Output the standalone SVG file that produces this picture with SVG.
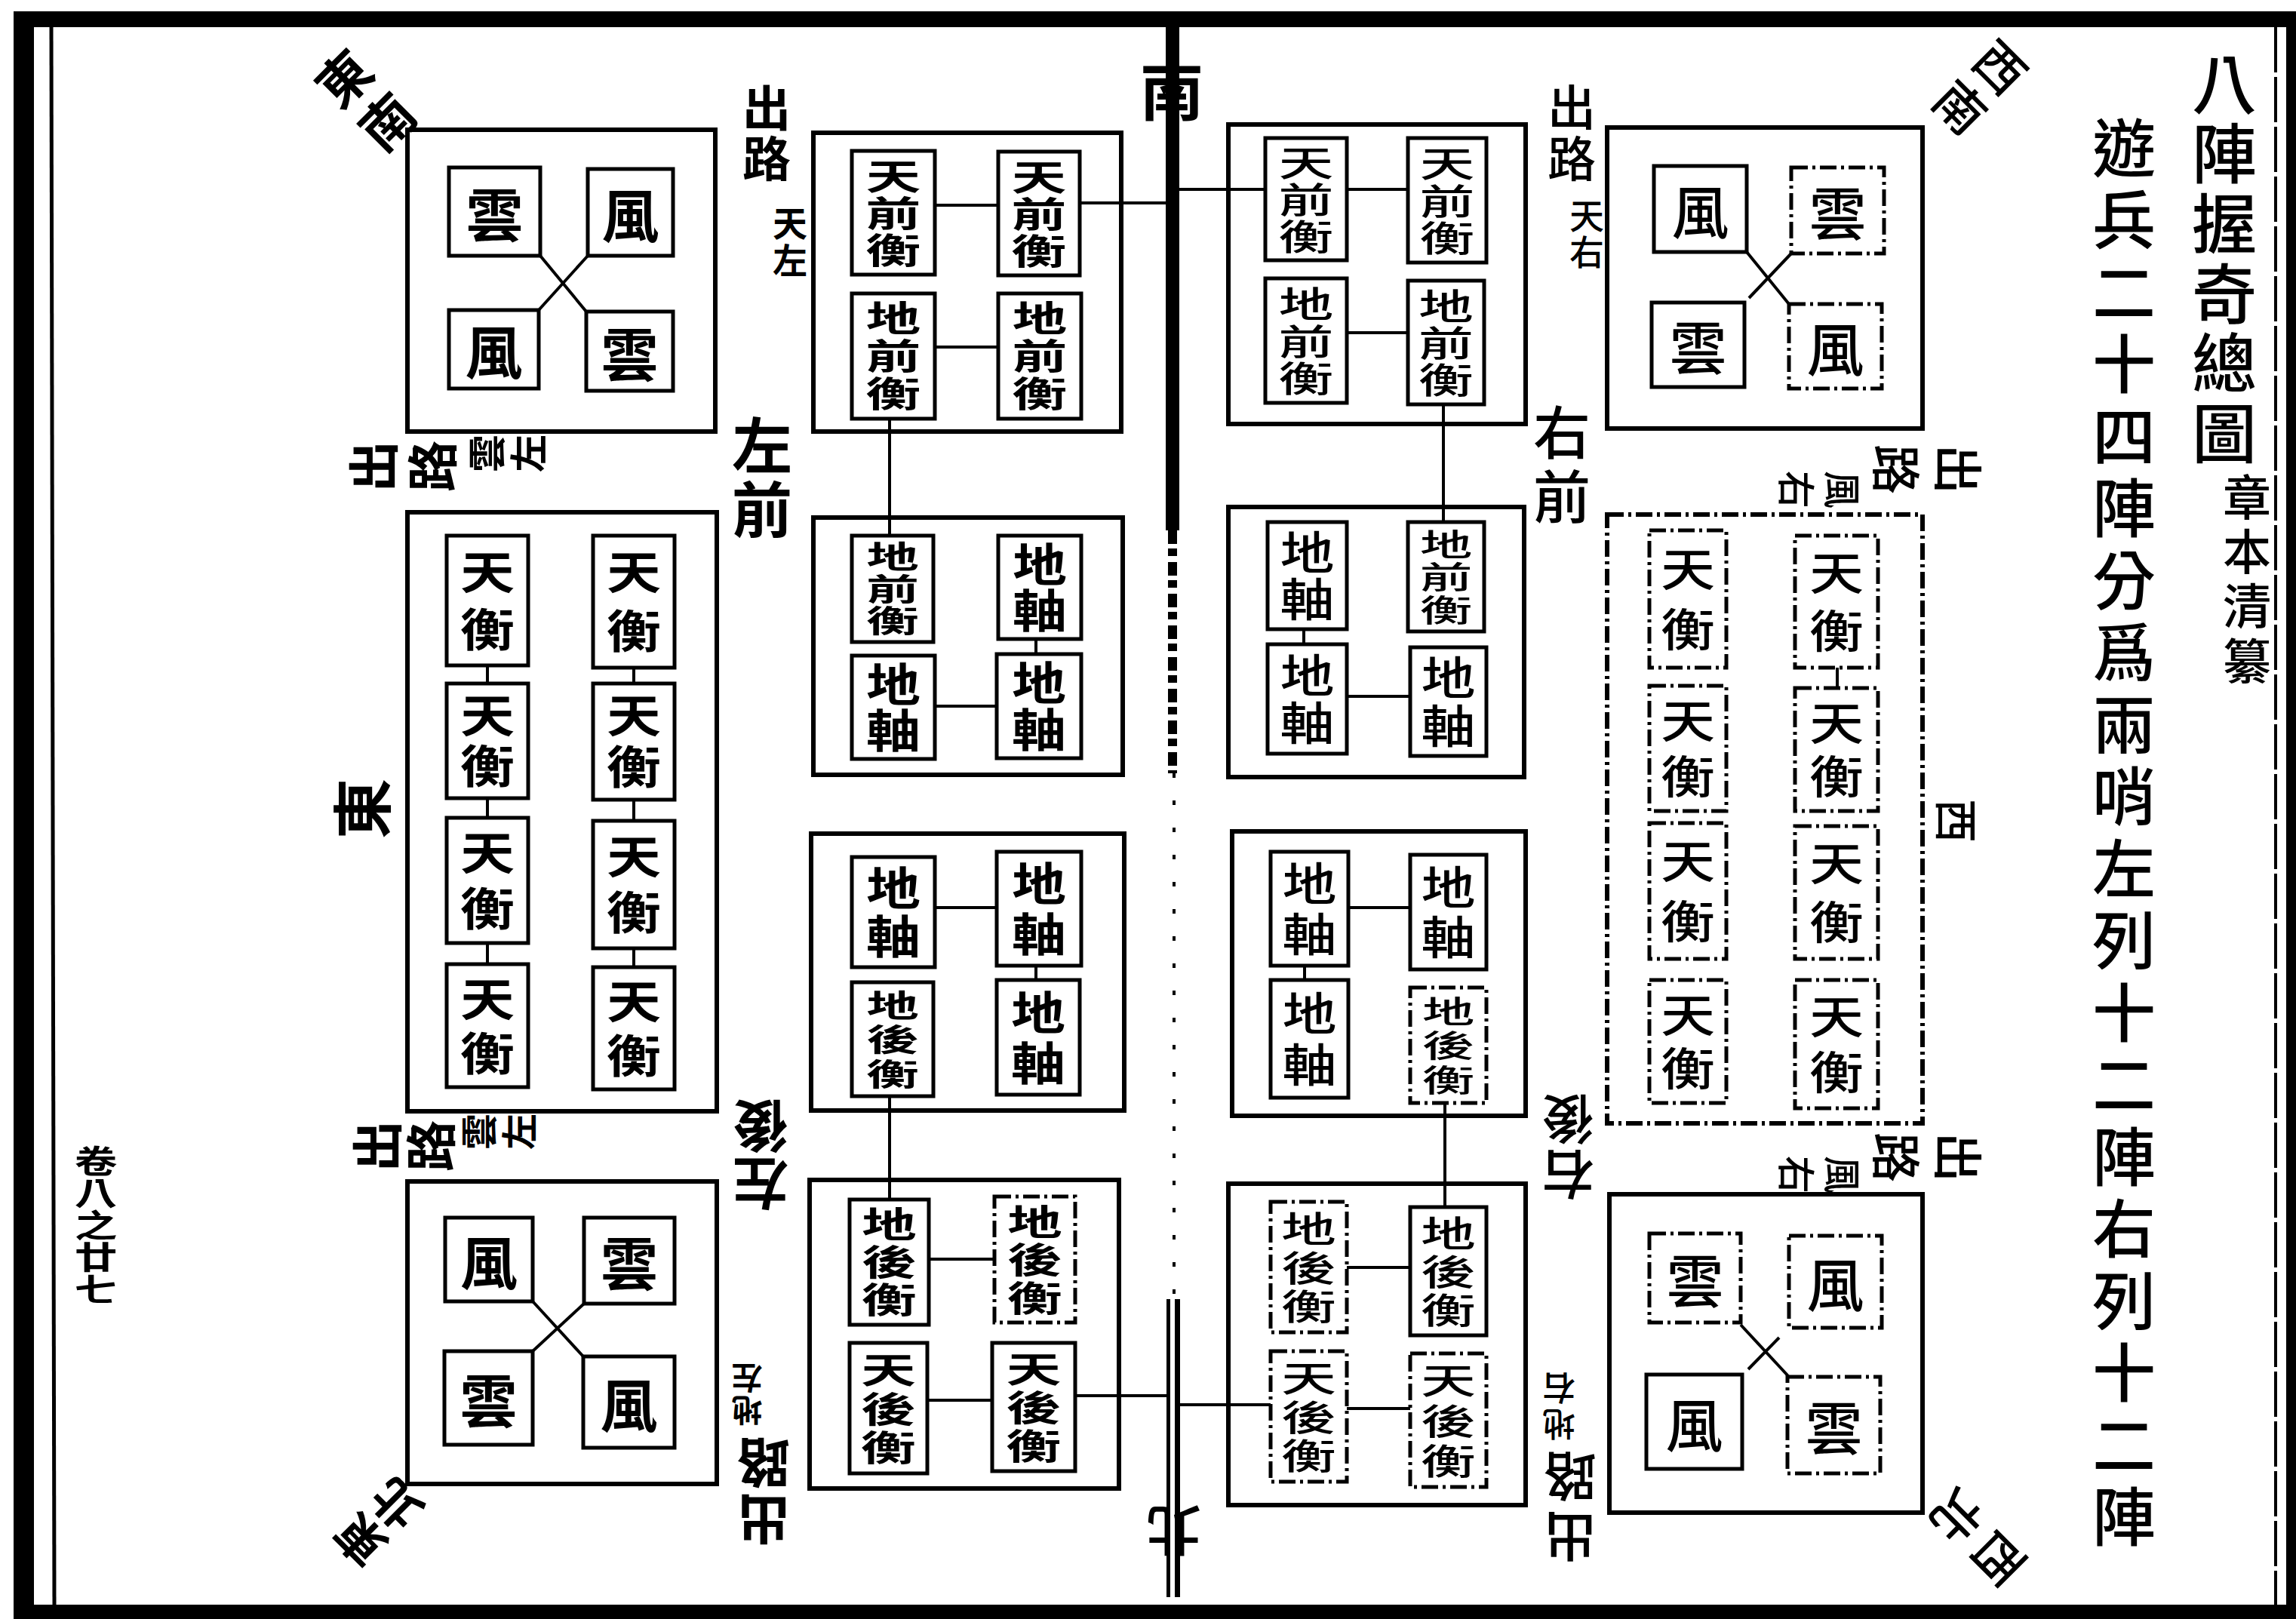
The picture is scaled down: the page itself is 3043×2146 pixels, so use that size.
<svg xmlns="http://www.w3.org/2000/svg" width="3043" height="2146" viewBox="0 0 3043 2146">
<style>
.f{font-family:"Noto Sans CJK TC","Noto Sans CJK SC",sans-serif;text-anchor:middle;dominant-baseline:central;fill:#000}
.v{writing-mode:vertical-rl}
.L{font-weight:700}
.R{font-weight:500}
.bx{fill:none;stroke:#000;stroke-width:6}
.sb{fill:none;stroke:#000;stroke-width:5}
.ds{stroke-dasharray:22 6 4 6}
.cn{stroke:#000;stroke-width:4;fill:none}
.s1{font-size:76px}
.s2{font-size:60px}
.s3{font-size:47px}
.s3b{font-size:41px}
</style>
<rect width="3043" height="2146" fill="#fff"/>
<g id="frame" fill="#000">
<rect x="18" y="15" width="3025" height="21"/>
<rect x="18" y="15" width="27" height="2131"/>
<rect x="18" y="2127" width="3025" height="19"/>
<rect x="3030" y="15" width="13" height="2131"/>
<line x1="68" y1="36" x2="72" y2="2127" stroke="#000" stroke-width="5"/>
<line x1="3016" y1="36" x2="3016" y2="2127" stroke="#000" stroke-width="4" stroke-dasharray="60 6"/>
</g>
<g id="gutter" fill="#000">
<rect x="1545" y="36" width="18" height="667"/>
<line x1="1554" y1="703" x2="1554" y2="1025" stroke="#000" stroke-width="12" stroke-dasharray="18 6 10 8"/>
<line x1="1556" y1="1025" x2="1556" y2="1721" stroke="#000" stroke-width="4" stroke-dasharray="6 30"/>
<rect x="1546" y="1722" width="5" height="395"/>
<rect x="1557" y="1722" width="7" height="395"/>
</g>
<g id="connectors" class="cn">
<line x1="1431" y1="269" x2="1545" y2="269"/>
<line x1="1239" y1="272" x2="1323" y2="272"/>
<line x1="1239" y1="460" x2="1323" y2="460"/>
<line x1="1179" y1="555" x2="1179" y2="710"/>
<line x1="1239" y1="936" x2="1321" y2="936"/>
<line x1="1373" y1="847" x2="1373" y2="867"/>
<line x1="1239" y1="1203" x2="1321" y2="1203"/>
<line x1="1373" y1="1280" x2="1373" y2="1299"/>
<line x1="1179" y1="1453" x2="1179" y2="1590"/>
<line x1="1231" y1="1669" x2="1318" y2="1669"/>
<line x1="1229" y1="1856" x2="1315" y2="1856"/>
<line x1="1425" y1="1850" x2="1546" y2="1850"/>
<line x1="646" y1="882" x2="646" y2="906"/>
<line x1="646" y1="1058" x2="646" y2="1084"/>
<line x1="646" y1="1250" x2="646" y2="1278"/>
<line x1="840" y1="885" x2="840" y2="906"/>
<line x1="840" y1="1060" x2="840" y2="1088"/>
<line x1="840" y1="1257" x2="840" y2="1282"/>
<line x1="716" y1="339" x2="777" y2="413"/>
<line x1="779" y1="339" x2="714" y2="411"/>
<line x1="706" y1="1725" x2="773" y2="1798"/>
<line x1="774" y1="1728" x2="706" y2="1791"/>
<line x1="1563" y1="251" x2="1677" y2="251"/>
<line x1="1785" y1="251" x2="1866" y2="251"/>
<line x1="1785" y1="441" x2="1866" y2="441"/>
<line x1="1913" y1="536" x2="1913" y2="692"/>
<line x1="1785" y1="923" x2="1869" y2="923"/>
<line x1="1728" y1="834" x2="1728" y2="854"/>
<line x1="1787" y1="1203" x2="1869" y2="1203"/>
<line x1="1729" y1="1280" x2="1729" y2="1299"/>
<line x1="1915" y1="1462" x2="1915" y2="1600"/>
<line x1="1785" y1="1680" x2="1869" y2="1680"/>
<line x1="1785" y1="1867" x2="1869" y2="1867"/>
<line x1="1564" y1="1862" x2="1684" y2="1862"/>
<line x1="2435" y1="885" x2="2435" y2="912"/>
<line x1="2315" y1="334" x2="2371" y2="403"/>
<line x1="2374" y1="336" x2="2318" y2="395"/>
<line x1="2307" y1="1756" x2="2371" y2="1825"/>
<line x1="2358" y1="1773" x2="2317" y2="1815"/>
</g>
<g id="c-left-top"><rect class="bx" x="540" y="172" width="408" height="400"/></g>
<g id="c-left-mid"><rect class="bx" x="540" y="679" width="410" height="794"/></g>
<g id="c-left-bot"><rect class="bx" x="540" y="1566" width="410" height="401"/></g>
<g id="c-A"><rect class="bx" x="1078" y="176" width="408" height="396"/></g>
<g id="c-B"><rect class="bx" x="1078" y="686" width="410" height="341"/></g>
<g id="c-C"><rect class="bx" x="1075" y="1105" width="415" height="367"/></g>
<g id="c-D"><rect class="bx" x="1073" y="1564" width="410" height="409"/></g>
<g id="c-E"><rect class="bx" x="1628" y="165" width="394" height="397"/></g>
<g id="c-F"><rect class="bx" x="1628" y="672" width="392" height="358"/></g>
<g id="c-G"><rect class="bx" x="1633" y="1102" width="389" height="377"/></g>
<g id="c-H"><rect class="bx" x="1628" y="1569" width="394" height="426"/></g>
<g id="c-right-top"><rect class="bx" x="2130" y="169" width="418" height="399"/></g>
<g id="c-right-mid"><rect class="bx ds" x="2130" y="682" width="418" height="807"/></g>
<g id="c-right-bot"><rect class="bx" x="2133" y="1583" width="415" height="422"/></g>

<g id="lt1"><rect class="sb" x="595" y="222" width="121" height="117"/><text class="f L s1" x="655.5" y="280.5">雲</text></g>
<g id="lt2"><rect class="sb" x="779" y="224" width="113" height="115"/><text class="f L s1" x="835.5" y="281.5">風</text></g>
<g id="lt3"><rect class="sb" x="595" y="411" width="119" height="104"/><text class="f L s1" x="654.5" y="463">風</text></g>
<g id="lt4"><rect class="sb" x="777" y="413" width="115" height="105"/><text class="f L s1" x="834.5" y="465.5">雲</text></g>

<g id="lm1"><rect class="sb" x="592" y="710" width="108" height="172"/><g transform="translate(646 0) scale(1.2 1)"><text class="f v L s2" x="0" y="804" letter-spacing="16">天衡</text></g></g>
<g id="lm2"><rect class="sb" x="786" y="710" width="108" height="175"/><g transform="translate(840 0) scale(1.2 1)"><text class="f v L s2" x="0" y="806" letter-spacing="18">天衡</text></g></g>
<g id="lm3"><rect class="sb" x="592" y="906" width="108" height="152"/><g transform="translate(646 0) scale(1.2 1)"><text class="f v L s2" x="0" y="985" letter-spacing="7">天衡</text></g></g>
<g id="lm4"><rect class="sb" x="786" y="906" width="108" height="154"/><g transform="translate(840 0) scale(1.2 1)"><text class="f v L s2" x="0" y="986" letter-spacing="8">天衡</text></g></g>
<g id="lm5"><rect class="sb" x="592" y="1084" width="108" height="166"/><g transform="translate(646 0) scale(1.2 1)"><text class="f v L s2" x="0" y="1174" letter-spacing="14">天衡</text></g></g>
<g id="lm6"><rect class="sb" x="786" y="1088" width="108" height="169"/><g transform="translate(840 0) scale(1.2 1)"><text class="f v L s2" x="0" y="1179" letter-spacing="14">天衡</text></g></g>
<g id="lm7"><rect class="sb" x="592" y="1278" width="108" height="163"/><g transform="translate(646 0) scale(1.2 1)"><text class="f v L s2" x="0" y="1366" letter-spacing="12">天衡</text></g></g>
<g id="lm8"><rect class="sb" x="786" y="1282" width="108" height="162"/><g transform="translate(840 0) scale(1.2 1)"><text class="f v L s2" x="0" y="1369" letter-spacing="12">天衡</text></g></g>

<g id="lb1"><rect class="sb" x="590" y="1614" width="116" height="111"/><text class="f L s1" x="648" y="1670">風</text></g>
<g id="lb2"><rect class="sb" x="774" y="1614" width="120" height="114"/><text class="f L s1" x="834" y="1671">雲</text></g>
<g id="lb3"><rect class="sb" x="589" y="1791" width="117" height="124"/><text class="f L s1" x="647.5" y="1853">雲</text></g>
<g id="lb4"><rect class="sb" x="773" y="1798" width="121" height="121"/><text class="f L s1" x="833.5" y="1858.5">風</text></g>

<g id="a1"><rect class="sb" x="1129" y="200" width="110" height="164"/><g transform="translate(1184 0) scale(1.55 1)"><text class="f v L s3" x="0" y="283" letter-spacing="2">天前衡</text></g></g>
<g id="a2"><rect class="sb" x="1323" y="201" width="108" height="164"/><g transform="translate(1377 0) scale(1.55 1)"><text class="f v L s3" x="0" y="284" letter-spacing="2">天前衡</text></g></g>
<g id="a3"><rect class="sb" x="1129" y="389" width="110" height="166"/><g transform="translate(1184 0) scale(1.55 1)"><text class="f v L s3" x="0" y="473" letter-spacing="3">地前衡</text></g></g>
<g id="a4"><rect class="sb" x="1323" y="389" width="110" height="166"/><g transform="translate(1378 0) scale(1.55 1)"><text class="f v L s3" x="0" y="473" letter-spacing="3">地前衡</text></g></g>
<g id="b1"><rect class="sb" x="1129" y="710" width="108" height="141"/><g transform="translate(1183 0) scale(1.7 1)"><text class="f v L s3b" x="0" y="781" letter-spacing="1.5">地前衡</text></g></g>
<g id="b2"><rect class="sb" x="1323" y="710" width="110" height="137"/><g transform="translate(1378 0) scale(1.2 1)"><text class="f v L s2" x="0" y="779" letter-spacing="1">地軸</text></g></g>
<g id="b3"><rect class="sb" x="1129" y="869" width="110" height="137"/><g transform="translate(1184 0) scale(1.2 1)"><text class="f v L s2" x="0" y="938" letter-spacing="1">地軸</text></g></g>
<g id="b4"><rect class="sb" x="1321" y="867" width="112" height="138"/><g transform="translate(1377 0) scale(1.2 1)"><text class="f v L s2" x="0" y="937" letter-spacing="2">地軸</text></g></g>
<g id="cc1"><rect class="sb" x="1129" y="1136" width="110" height="146"/><g transform="translate(1184 0) scale(1.2 1)"><text class="f v L s2" x="0" y="1211" letter-spacing="4">地軸</text></g></g>
<g id="cc2"><rect class="sb" x="1321" y="1129" width="112" height="151"/><g transform="translate(1377 0) scale(1.2 1)"><text class="f v L s2" x="0" y="1208" letter-spacing="7">地軸</text></g></g>
<g id="cc3"><rect class="sb" x="1129" y="1302" width="108" height="151"/><g transform="translate(1183 0) scale(1.7 1)"><text class="f v L s3b" x="0" y="1380" letter-spacing="4.5">地後衡</text></g></g>
<g id="cc4"><rect class="sb" x="1321" y="1299" width="110" height="152"/><g transform="translate(1376 0) scale(1.2 1)"><text class="f v L s2" x="0" y="1379" letter-spacing="7">地軸</text></g></g>
<g id="d1"><rect class="sb" x="1126" y="1590" width="105" height="166"/><g transform="translate(1178.5 0) scale(1.55 1)"><text class="f v L s3" x="0" y="1674" letter-spacing="3">地後衡</text></g></g>
<g id="d2"><rect class="sb ds" x="1318" y="1586" width="107" height="167"/><g transform="translate(1371.5 0) scale(1.55 1)"><text class="f v L s3" x="0" y="1671" letter-spacing="3.5">地後衡</text></g></g>
<g id="d3"><rect class="sb" x="1126" y="1780" width="103" height="173"/><g transform="translate(1177.5 0) scale(1.55 1)"><text class="f v L s3" x="0" y="1869" letter-spacing="4.5">天後衡</text></g></g>
<g id="d4"><rect class="sb" x="1315" y="1780" width="110" height="170"/><g transform="translate(1370 0) scale(1.55 1)"><text class="f v L s3" x="0" y="1867" letter-spacing="4">天後衡</text></g></g>

<g id="e1"><rect class="sb" x="1677" y="183" width="108" height="162"/><g transform="translate(1731 0) scale(1.55 1)"><text class="f v R s3" x="0" y="265" letter-spacing="2">天前衡</text></g></g>
<g id="e2"><rect class="sb" x="1866" y="183" width="104" height="165"/><g transform="translate(1918 0) scale(1.55 1)"><text class="f v R s3" x="0" y="267" letter-spacing="2.5">天前衡</text></g></g>
<g id="e3"><rect class="sb" x="1677" y="369" width="108" height="165"/><g transform="translate(1731 0) scale(1.55 1)"><text class="f v R s3" x="0" y="453" letter-spacing="2.5">地前衡</text></g></g>
<g id="e4"><rect class="sb" x="1866" y="372" width="101" height="164"/><g transform="translate(1916.5 0) scale(1.55 1)"><text class="f v R s3" x="0" y="455" letter-spacing="2">地前衡</text></g></g>
<g id="f1"><rect class="sb" x="1680" y="692" width="105" height="142"/><g transform="translate(1732.5 0) scale(1.2 1)"><text class="f v R s2" x="0" y="764" letter-spacing="2">地軸</text></g></g>
<g id="f2"><rect class="sb" x="1866" y="692" width="101" height="145"/><g transform="translate(1916.5 0) scale(1.7 1)"><text class="f v R s3b" x="0" y="766" letter-spacing="2.5">地前衡</text></g></g>
<g id="f3"><rect class="sb" x="1680" y="854" width="105" height="145"/><g transform="translate(1732.5 0) scale(1.2 1)"><text class="f v R s2" x="0" y="928" letter-spacing="3">地軸</text></g></g>
<g id="f4"><rect class="sb" x="1869" y="858" width="101" height="144"/><g transform="translate(1919.5 0) scale(1.2 1)"><text class="f v R s2" x="0" y="932" letter-spacing="4">地軸</text></g></g>
<g id="g1"><rect class="sb" x="1684" y="1129" width="103" height="151"/><g transform="translate(1735.5 0) scale(1.2 1)"><text class="f v R s2" x="0" y="1208" letter-spacing="7">地軸</text></g></g>
<g id="g2"><rect class="sb" x="1869" y="1133" width="101" height="152"/><g transform="translate(1919.5 0) scale(1.2 1)"><text class="f v R s2" x="0" y="1212" letter-spacing="6">地軸</text></g></g>
<g id="g3"><rect class="sb" x="1684" y="1299" width="103" height="156"/><g transform="translate(1735.5 0) scale(1.2 1)"><text class="f v R s2" x="0" y="1381" letter-spacing="8">地軸</text></g></g>
<g id="g4"><rect class="sb ds" x="1869" y="1309" width="101" height="153"/><g transform="translate(1919.5 0) scale(1.7 1)"><text class="f v R s3b" x="0" y="1388" letter-spacing="4.5">地後衡</text></g></g>
<g id="h1"><rect class="sb ds" x="1684" y="1593" width="101" height="173"/><g transform="translate(1734.5 0) scale(1.55 1)"><text class="f v R s3" x="0" y="1682" letter-spacing="4.5">地後衡</text></g></g>
<g id="h2"><rect class="sb" x="1869" y="1600" width="101" height="170"/><g transform="translate(1919.5 0) scale(1.55 1)"><text class="f v R s3" x="0" y="1687" letter-spacing="4">地後衡</text></g></g>
<g id="h3"><rect class="sb ds" x="1684" y="1791" width="101" height="173"/><g transform="translate(1734.5 0) scale(1.55 1)"><text class="f v R s3" x="0" y="1880" letter-spacing="4.5">天後衡</text></g></g>
<g id="h4"><rect class="sb ds" x="1869" y="1794" width="101" height="177"/><g transform="translate(1919.5 0) scale(1.55 1)"><text class="f v R s3" x="0" y="1886" letter-spacing="6.5">天後衡</text></g></g>

<g id="rt1"><rect class="sb" x="2192" y="220" width="123" height="114"/><text class="f R s1" x="2253.5" y="277">風</text></g>
<g id="rt2"><rect class="sb ds" x="2374" y="222" width="123" height="114"/><text class="f R s1" x="2435.5" y="279">雲</text></g>
<g id="rt3"><rect class="sb" x="2189" y="401" width="123" height="112"/><text class="f R s1" x="2250.5" y="457">雲</text></g>
<g id="rt4"><rect class="sb ds" x="2371" y="403" width="123" height="112"/><text class="f R s1" x="2432.5" y="459">風</text></g>
<g id="rm1"><rect class="sb ds" x="2186" y="703" width="102" height="182"/><g transform="translate(2237 0) scale(1.2 1)"><text class="f v R s2" x="0" y="804" letter-spacing="20">天衡</text></g></g>
<g id="rm2"><rect class="sb ds" x="2379" y="710" width="110" height="175"/><g transform="translate(2434 0) scale(1.2 1)"><text class="f v R s2" x="0" y="806" letter-spacing="17">天衡</text></g></g>
<g id="rm3"><rect class="sb ds" x="2186" y="909" width="102" height="166"/><g transform="translate(2237 0) scale(1.2 1)"><text class="f v R s2" x="0" y="999" letter-spacing="14">天衡</text></g></g>
<g id="rm4"><rect class="sb ds" x="2379" y="912" width="110" height="163"/><g transform="translate(2434 0) scale(1.2 1)"><text class="f v R s2" x="0" y="999" letter-spacing="11">天衡</text></g></g>
<g id="rm5"><rect class="sb ds" x="2186" y="1091" width="102" height="180"/><g transform="translate(2237 0) scale(1.2 1)"><text class="f v R s2" x="0" y="1191" letter-spacing="20">天衡</text></g></g>
<g id="rm6"><rect class="sb ds" x="2379" y="1095" width="110" height="176"/><g transform="translate(2434 0) scale(1.2 1)"><text class="f v R s2" x="0" y="1192" letter-spacing="18">天衡</text></g></g>
<g id="rm7"><rect class="sb ds" x="2186" y="1299" width="102" height="163"/><g transform="translate(2237 0) scale(1.2 1)"><text class="f v R s2" x="0" y="1386" letter-spacing="11">天衡</text></g></g>
<g id="rm8"><rect class="sb ds" x="2379" y="1299" width="110" height="170"/><g transform="translate(2434 0) scale(1.2 1)"><text class="f v R s2" x="0" y="1391" letter-spacing="14">天衡</text></g></g>
<g id="rb1"><rect class="sb ds" x="2186" y="1635" width="121" height="118"/><text class="f R s1" x="2246.5" y="1694">雲</text></g>
<g id="rb2"><rect class="sb ds" x="2371" y="1638" width="123" height="122"/><text class="f R s1" x="2432.5" y="1699">風</text></g>
<g id="rb3"><rect class="sb" x="2182" y="1822" width="127" height="125"/><text class="f R s1" x="2245.5" y="1884.5">風</text></g>
<g id="rb4"><rect class="sb ds" x="2369" y="1825" width="123" height="128"/><text class="f R s1" x="2430.5" y="1889">雲</text></g>

<g id="labels" class="f L">
<text x="1553" y="115" font-size="85">南</text>
<text x="1555" y="2033" font-size="74" font-weight="500" transform="rotate(180 1555 2033)">北</text>
<text x="475" y="1072" font-size="80" transform="rotate(-90 475 1072)">東</text>
<text x="2596" y="1088" font-size="58" font-weight="500" transform="rotate(90 2596 1088)">西</text>
<text class="v" x="485" y="138" font-size="70" letter-spacing="11" transform="rotate(-45 485 133)">東南</text>
<text class="v" x="2625" y="120" font-size="66" font-weight="500" letter-spacing="9" transform="rotate(45 2625 115)">西南</text>
<text class="v" x="501" y="2020" font-size="64" letter-spacing="3" transform="rotate(-135 501 2018)">東北</text>
<text class="v" x="2621" y="2044" font-size="66" font-weight="500" letter-spacing="13" transform="rotate(135 2621 2038)">西北</text>
<text class="v" x="1016" y="178" font-size="64" letter-spacing="3">出路</text>
<text class="v" x="1047" y="322" font-size="46" letter-spacing="3">天左</text>
<text class="v" x="1010" y="635" font-size="80" letter-spacing="5">左前</text>
<text class="v" x="1008" y="1532" font-size="74" letter-spacing="2" transform="rotate(180 1008 1531)">左後</text>
<text class="v" x="1012" y="1980" font-size="70" letter-spacing="5" transform="rotate(180 1012 1977)">出路</text>
<text class="v" x="990" y="1849" font-size="41" letter-spacing="2" transform="rotate(180 990 1848)">地左</text>
<text class="v" x="534" y="623" font-size="68" letter-spacing="10" transform="rotate(-90 534 618)">出路</text>
<text class="v" x="672" y="604" font-size="50" letter-spacing="5" transform="rotate(-90 672 601)">雲左</text>
<text class="v" x="535" y="1521" font-size="68" letter-spacing="3" transform="rotate(-90 535 1519)">出路</text>
<text class="v" x="661" y="1503" font-size="48" letter-spacing="5" transform="rotate(-90 661 1500)">雲左</text>
</g>
<g id="labels-right" class="f R">
<text class="v" x="2083" y="178" font-size="64" letter-spacing="4">出路</text>
<text class="v" x="2103" y="311" font-size="46" letter-spacing="2">天右</text>
<text class="v" x="2070" y="620" font-size="76" letter-spacing="9">右前</text>
<text class="v" x="2078" y="1523" font-size="70" letter-spacing="3" transform="rotate(180 2078 1521)">右後</text>
<text class="v" x="2081" y="2002" font-size="70" letter-spacing="10" transform="rotate(180 2081 1997)">出路</text>
<text class="v" x="2066" y="1866" font-size="44" letter-spacing="4" transform="rotate(180 2066 1864)">地右</text>
<text class="v" x="2554" y="630" font-size="66" letter-spacing="16" transform="rotate(90 2554 622)">出路</text>
<text class="v" x="2412" y="655" font-size="50" letter-spacing="11" transform="rotate(90 2412 649)">風右</text>
<text class="v" x="2554" y="1542" font-size="66" letter-spacing="16" transform="rotate(90 2554 1534)">出路</text>
<text class="v" x="2412" y="1563" font-size="50" letter-spacing="11" transform="rotate(90 2412 1557)">風右</text>
</g>
<g id="title" class="f R">
<text class="v" x="2948" y="346" font-size="86" letter-spacing="6.6">八陣握奇總圖</text>
<text class="v" x="2978" y="771" font-size="64" letter-spacing="8.3">章本清纂</text>
<text class="v" x="2815" y="1109" font-size="84" letter-spacing="11.5">遊兵二十四陣分爲兩哨左列十二陣右列十二陣</text>
</g>
<g id="folio" class="f L">
<g transform="translate(127 0) scale(1.35 1)"><text class="v" x="0" y="1624" font-size="42" letter-spacing="0.5">卷八之廿七</text></g>
</g>
</svg>
